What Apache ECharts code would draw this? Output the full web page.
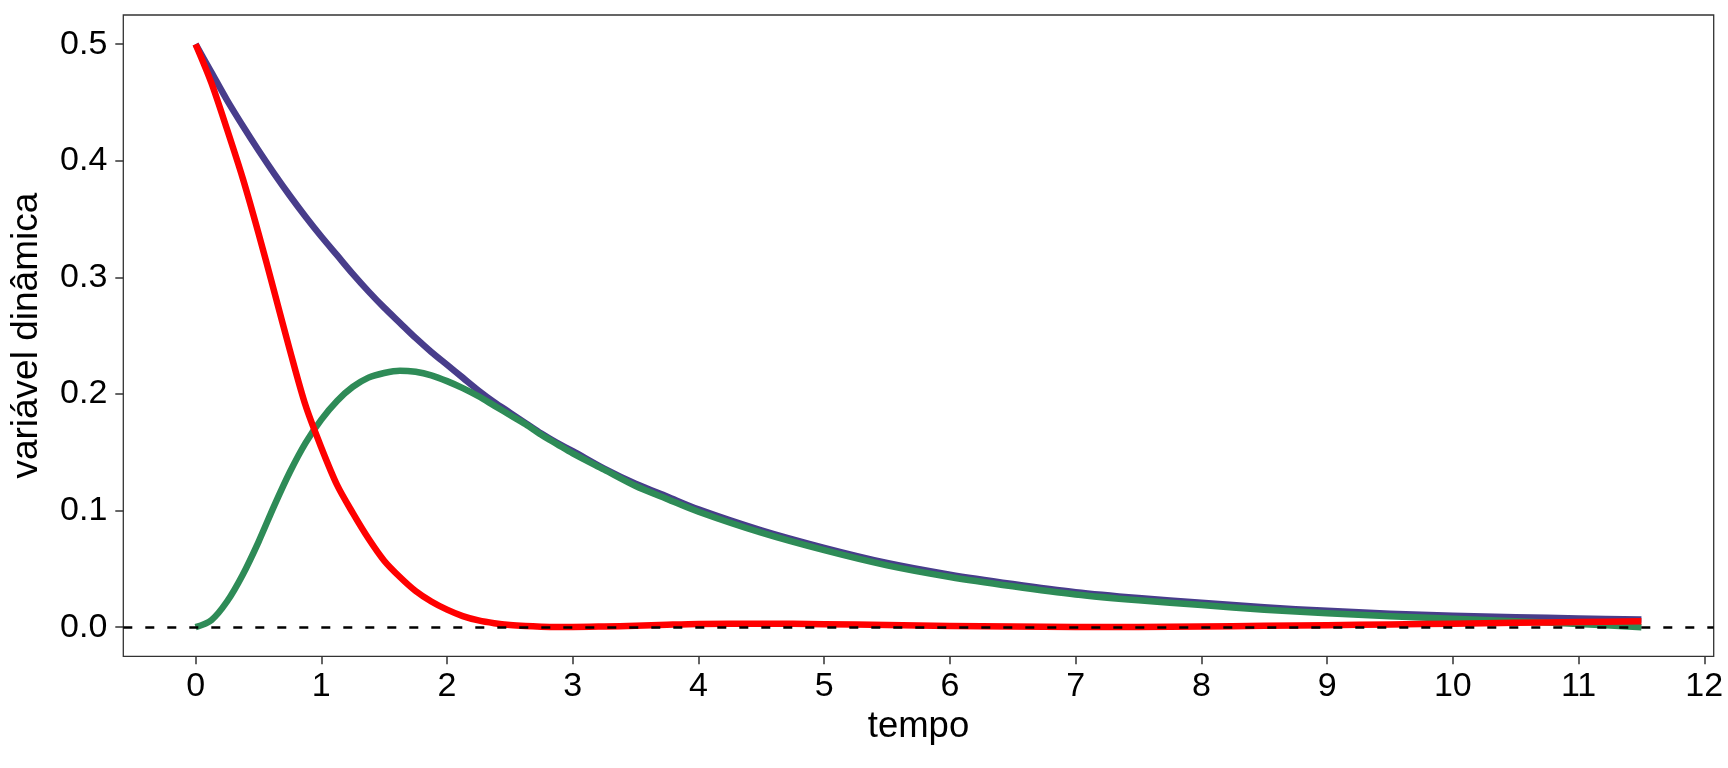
<!DOCTYPE html>
<html>
<head>
<meta charset="utf-8">
<script src="https://cdn.jsdelivr.net/npm/echarts@6/dist/echarts.min.js"></script>
<style>
html,body{margin:0;padding:0;background:#fff;}
#c{width:1728px;height:768px;}
</style>
</head>
<body>
<div id="c"></div>
<script>
// tempo (time) sample points
const tempo = [0, 0.125, 0.25, 0.375, 0.5, 0.625, 0.75, 0.875, 1, 1.125, 1.25, 1.375, 1.5, 1.625, 1.75, 1.875, 2, 2.125, 2.25, 2.375, 2.5, 2.625, 2.75, 2.875, 3, 3.25, 3.5, 3.75, 4, 4.5, 5, 5.5, 6, 6.5, 7, 7.5, 8, 8.5, 9, 9.5, 10, 10.5, 11, 11.5];
// blue series (darkslateblue)
const serieAzul = [0.5, 0.476, 0.452, 0.430, 0.409, 0.389, 0.370, 0.352, 0.335, 0.319, 0.303, 0.288, 0.274, 0.261, 0.248, 0.236, 0.225, 0.214, 0.203, 0.193, 0.184, 0.175, 0.166, 0.158, 0.151, 0.136, 0.123, 0.112, 0.101, 0.083, 0.068, 0.055, 0.045, 0.037, 0.030, 0.025, 0.021, 0.017, 0.014, 0.0115, 0.0098, 0.0085, 0.0075, 0.0065];
// green series (seagreen)
const serieVerde = [0, 0.006, 0.022, 0.045, 0.073, 0.104, 0.133, 0.158, 0.178, 0.194, 0.206, 0.214, 0.218, 0.220, 0.219, 0.216, 0.211, 0.205, 0.198, 0.190, 0.182, 0.174, 0.165, 0.157, 0.149, 0.135, 0.121, 0.110, 0.099, 0.081, 0.066, 0.053, 0.043, 0.035, 0.028, 0.023, 0.019, 0.015, 0.012, 0.0094, 0.0072, 0.005, 0.0028, 0.0];
// red series
const serieVermelha = [0.5, 0.467, 0.427, 0.385, 0.338, 0.288, 0.2375, 0.190, 0.154, 0.122, 0.098, 0.076, 0.057, 0.043, 0.031, 0.022, 0.015, 0.0095, 0.0058, 0.0034, 0.0018, 0.0009, 0.0004, 0.0002, 0.0002, 0.0006, 0.0012, 0.0021, 0.0028, 0.003, 0.0025, 0.0018, 0.001, 0.0005, 0.0002, 0.0002, 0.0006, 0.0011, 0.0017, 0.0023, 0.003, 0.0037, 0.0044, 0.0051];
// reference line
const linhaRef = [0];
// tick labels
const xTicks = [0,1,2,3,4,5,6,7,8,9,10,11,12];
const yTicks = [0, 0.1, 0.2, 0.3, 0.4, 0.5];

const pairs = ys => tempo.map((t, i) => [t, ys[i]]);
const FONT = "'Liberation Sans', Arial, sans-serif";

const chart = echarts.init(document.getElementById('c'), null, {renderer: 'canvas'});
const lw = 6.5;
const lineSeries = (ys, color, z) => ({
  type: 'line', data: pairs(ys), z: z, showSymbol: false, smooth: 0.3,
  lineStyle: {color: color, width: lw, cap: 'butt', join: 'round'}
});
chart.setOption({
  animation: false,
  backgroundColor: '#ffffff',
  grid: {left: 123.3, right: 14.3, top: 15, bottom: 111.7, show: true, borderColor: '#333333', borderWidth: 1.3, backgroundColor: 'transparent'},
  xAxis: {
    type: 'value', min: -0.575, max: 12.075,
    name: 'tempo', nameLocation: 'middle', nameGap: 50,
    nameTextStyle: {fontFamily: FONT, fontSize: 36.5, color: '#000'},
    axisLine: {show: false, onZero: false},
    axisTick: {show: true, length: 8, lineStyle: {color: '#333333', width: 1.5}, customValues: xTicks},
    axisLabel: {customValues: xTicks, fontFamily: FONT, fontSize: 34, color: '#000', margin: 13},
    splitLine: {show: false}
  },
  yAxis: {
    type: 'value', min: -0.025, max: 0.525,
    name: 'variável dinâmica', nameLocation: 'middle', nameGap: 78,
    nameTextStyle: {fontFamily: FONT, fontSize: 37, color: '#000'},
    axisLine: {show: false, onZero: false},
    axisTick: {show: true, length: 8, lineStyle: {color: '#333333', width: 1.5}, customValues: yTicks},
    axisLabel: {customValues: yTicks, fontFamily: FONT, fontSize: 34, color: '#000', margin: 16, formatter: v => v.toFixed(1)},
    splitLine: {show: false}
  },
  series: [
    {
      type: 'line', data: [], z: 1, silent: true,
      markLine: {
        symbol: ['none', 'none'], silent: true, label: {show: false},
        lineStyle: {color: '#000', type: [9, 13], width: 2.5},
        data: linhaRef.map(v => ({yAxis: v}))
      }
    },
    lineSeries(serieAzul, '#483D8B', 2),
    lineSeries(serieVerde, '#2E8B57', 3),
    lineSeries(serieVermelha, '#FF0000', 4)
  ]
});
</script>
</body>
</html>
